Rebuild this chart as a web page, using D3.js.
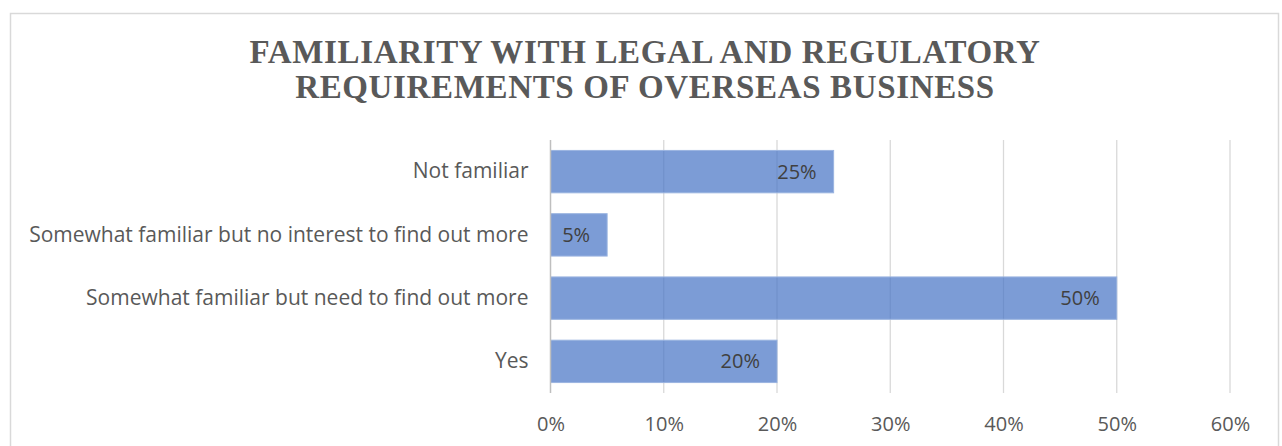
<!DOCTYPE html>
<html>
<head>
<meta charset="utf-8">
<script src="https://cdn.jsdelivr.net/npm/d3@7"></script>
<style>
  html, body { margin: 0; padding: 0; background: #fff; }
  svg { display: block; }
</style>
</head>
<body>
<svg id="chart" width="1282" height="446"></svg>
<script>
// Survey responses, listed top to bottom as shown
const categories = [
  "Not familiar",
  "Somewhat familiar but no interest to find out more",
  "Somewhat familiar but need to find out more",
  "Yes"
];
const shares = [25, 5, 50, 20];
const tickValues = [0, 10, 20, 30, 40, 50, 60];
const titleLines = [
  "FAMILIARITY WITH LEGAL AND REGULATORY",
  "REQUIREMENTS OF OVERSEAS BUSINESS"
];

const svg = d3.select("#chart");

// chart frame
svg.append("rect")
  .attr("x", 10.5).attr("y", 13.5)
  .attr("width", 1268).attr("height", 460)
  .attr("fill", "#fff").attr("stroke", "#d9d9d9").attr("stroke-width", 1.5);

// title
svg.append("g")
  .selectAll("text")
  .data(titleLines)
  .join("text")
  .attr("x", 645)
  .attr("y", (d, i) => 63 + i * 35)
  .attr("text-anchor", "middle")
  .attr("font-family", "'Liberation Serif', 'Times New Roman', serif")
  .attr("font-weight", "bold")
  .attr("font-size", 33)
  .attr("letter-spacing", 0.65)
  .attr("fill", "#595959")
  .text(d => d);

const plot = { left: 550.5, right: 1230, top: 140, bottom: 393 };

const x = d3.scaleLinear().domain([0, 60]).range([plot.left, plot.right]);
const y = d3.scaleBand()
  .domain(categories)
  .range([plot.top, plot.bottom])
  .paddingInner(0.33)
  .paddingOuter(0.165);

// vertical gridlines
svg.append("g")
  .selectAll("line")
  .data(tickValues.filter(v => v > 0))
  .join("line")
  .attr("x1", d => x(d)).attr("x2", d => x(d))
  .attr("y1", plot.top).attr("y2", plot.bottom)
  .attr("stroke", "#d9d9d9").attr("stroke-width", 1.3);

// bars
svg.append("g")
  .selectAll("rect")
  .data(categories)
  .join("rect")
  .attr("x", x(0))
  .attr("y", d => y(d))
  .attr("width", (d, i) => x(shares[i]) - x(0))
  .attr("height", y.bandwidth())
  .attr("fill", "#4472c4")
  .attr("fill-opacity", 0.7)
  .attr("stroke", "#9ab4e0")
  .attr("stroke-width", 1);

// category axis line
svg.append("line")
  .attr("x1", plot.left).attr("x2", plot.left)
  .attr("y1", plot.top).attr("y2", plot.bottom)
  .attr("stroke", "#bfbfbf").attr("stroke-width", 1.5);

// value labels inside bar ends
svg.append("g")
  .selectAll("text")
  .data(categories)
  .join("text")
  .attr("x", (d, i) => x(shares[i]) - 17)
  .attr("y", d => y(d) + y.bandwidth() / 2)
  .attr("dy", "0.35em")
  .attr("text-anchor", "end")
  .attr("font-family", "'Open Sans', sans-serif")
  .attr("font-size", 20)
  .attr("fill", "#404040")
  .text((d, i) => shares[i] + "%");

// category labels
const yAxis = d3.axisLeft(y).tickSize(0).tickPadding(22);
svg.append("g")
  .attr("transform", `translate(${plot.left},0)`)
  .call(yAxis)
  .call(g => g.select(".domain").remove())
  .selectAll("text")
  .attr("font-family", "'Open Sans', sans-serif")
  .attr("font-size", 21)
  .attr("fill", "#595959");

// value axis labels
const xAxis = d3.axisBottom(x).tickValues(tickValues).tickSize(0).tickPadding(24)
  .tickFormat(d => d + "%");
svg.append("g")
  .attr("transform", `translate(0,${plot.bottom})`)
  .call(xAxis)
  .call(g => g.select(".domain").remove())
  .selectAll("text")
  .attr("font-family", "'Open Sans', sans-serif")
  .attr("font-size", 20)
  .attr("fill", "#595959");
</script>
</body>
</html>
